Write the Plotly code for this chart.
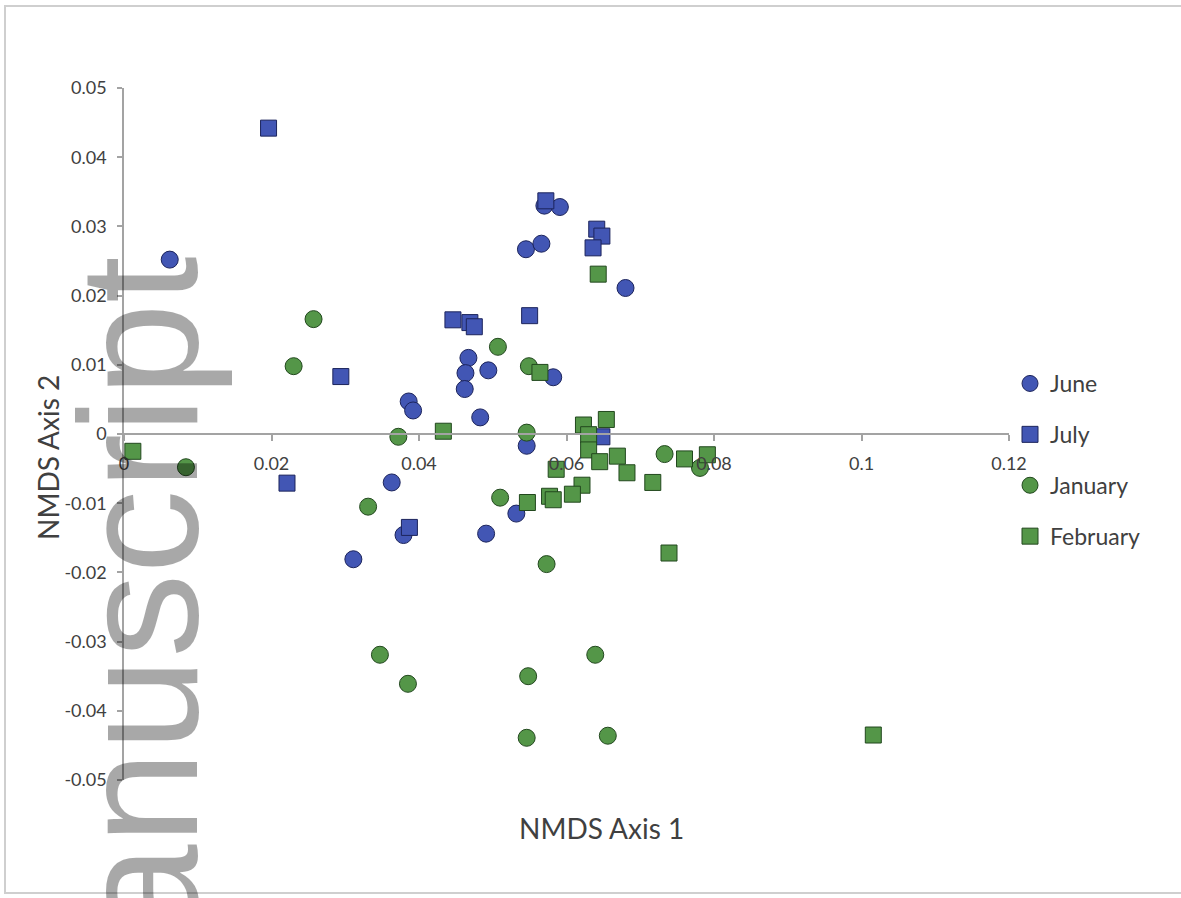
import plotly.graph_objects as go

# ---------------- data ----------------
june_x = [0.0062, 0.0570, 0.0591, 0.0545, 0.0566, 0.0680, 0.0467, 0.0463, 0.0462, 0.0494,
          0.0582, 0.0386, 0.0392, 0.0483, 0.0546, 0.0363, 0.0532, 0.0379, 0.0491, 0.0311]
june_y = [0.0252, 0.0330, 0.0328, 0.0267, 0.0275, 0.0211, 0.0110, 0.0088, 0.0065, 0.0092,
          0.0082, 0.0047, 0.0034, 0.0024, -0.0017, -0.0070, -0.0115, -0.0146, -0.0144, -0.0181]

july_x = [0.0196, 0.0572, 0.0641, 0.0648, 0.0636, 0.0550, 0.0446, 0.0469, 0.0475, 0.0294,
          0.0648, 0.0221, 0.0387]
july_y = [0.0442, 0.0337, 0.0296, 0.0286, 0.0269, 0.0171, 0.0165, 0.0161, 0.0155, 0.0083,
          -0.0004, -0.0071, -0.0135]

jan_x = [0.0257, 0.0230, 0.0507, 0.0549, 0.0372, 0.0546, 0.0084, 0.0733, 0.0781, 0.0510,
         0.0331, 0.0573, 0.0347, 0.0385, 0.0548, 0.0639, 0.0546, 0.0656]
jan_y = [0.0166, 0.0098, 0.0126, 0.0098, -0.0004, 0.0002, -0.0048, -0.0029, -0.0049, -0.0092,
         -0.0105, -0.0188, -0.0319, -0.0361, -0.0350, -0.0319, -0.0439, -0.0436]

feb_x = [0.0643, 0.0564, 0.0433, 0.0623, 0.0654, 0.0630, 0.0630, 0.0645, 0.0669, 0.0682,
         0.0586, 0.0717, 0.0760, 0.0791, 0.0621, 0.0608, 0.0577, 0.0582, 0.0547, 0.0739,
         0.0012, 0.1016]
feb_y = [0.0231, 0.0089, 0.0004, 0.0013, 0.0021, -0.0001, -0.0023, -0.0040, -0.0032, -0.0056,
         -0.0051, -0.0070, -0.0036, -0.0030, -0.0074, -0.0087, -0.0090, -0.0095, -0.0099, -0.0172,
         -0.0025, -0.0435]

x_tick_vals = [0, 0.02, 0.04, 0.06, 0.08, 0.1, 0.12]
x_tick_text = ["0", "0.02", "0.04", "0.06", "0.08", "0.1", "0.12"]
y_tick_vals = [0.05, 0.04, 0.03, 0.02, 0.01, 0, -0.01, -0.02, -0.03, -0.04, -0.05]
y_tick_text = ["0.05", "0.04", "0.03", "0.02", "0.01", "0", "-0.01", "-0.02", "-0.03", "-0.04", "-0.05"]

series_names = ["June", "July", "January", "February"]

# ---------------- style ----------------
BLUE = "rgb(66,86,180)"
BLUE_LINE = "rgb(28,36,92)"
GREEN = "rgb(84,150,72)"
GREEN_LINE = "rgb(34,72,30)"
AXIS = "#a3a3a3"
TXT = "#404040"
FONT = "Lato"

W, H = 1181, 898
L, R, T, B = 124, 1009, 88, 780   # plot area in pixels


def px_x(p):
    return (p - L) / (R - L)


def px_y(p):
    return (B - p) / (B - T)


fig = go.Figure()
specs = [
    (june_x, june_y, "circle", BLUE, BLUE_LINE, 17),
    (july_x, july_y, "square", BLUE, BLUE_LINE, 16),
    (jan_x, jan_y, "circle", GREEN, GREEN_LINE, 17),
    (feb_x, feb_y, "square", GREEN, GREEN_LINE, 16),
]
for name, (xs, ys, sym, fc, lc, sz) in zip(series_names, specs):
    fig.add_trace(go.Scatter(
        x=xs, y=ys, mode="markers", name=name, legendgroup=name,
        cliponaxis=False,
        marker=dict(symbol=sym, size=sz, color=fc, line=dict(color=lc, width=1)),
    ))

fig.update_layout(
    width=W, height=H,
    margin=dict(l=L, r=W - R, t=T, b=H - B),
    paper_bgcolor="white", plot_bgcolor="white",
    font=dict(family=FONT, color=TXT),
    showlegend=True,
    legend=dict(
        x=px_x(1010), y=px_y(460), xanchor="left", yanchor="middle",
        font=dict(family=FONT, size=23, color=TXT),
        tracegroupgap=18, itemwidth=30, bgcolor="rgba(0,0,0,0)",
    ),
    xaxis=dict(
        range=[0, 0.12], anchor="free", position=0.5,
        showline=True, linecolor=AXIS, linewidth=1.5,
        ticks="outside", ticklen=6, tickcolor=AXIS, tickwidth=1.5,
        tickvals=x_tick_vals, ticktext=x_tick_text,
        tickfont=dict(family=FONT, size=18, color=TXT),
        ticklabelstandoff=8,
        showgrid=False, zeroline=False,
    ),
    yaxis=dict(
        range=[-0.05, 0.05],
        showline=True, linecolor=AXIS, linewidth=1.5,
        ticks="outside", ticklen=5, tickcolor=AXIS, tickwidth=1.5,
        tickvals=y_tick_vals, ticktext=y_tick_text,
        tickfont=dict(family=FONT, size=18, color=TXT),
        ticklabelstandoff=7,
        showgrid=False, zeroline=False,
    ),
    shapes=[dict(
        type="rect", xref="paper", yref="paper", layer="below",
        x0=px_x(5), x1=px_x(1190), y0=px_y(893), y1=px_y(6),
        line=dict(color="#cfcfcf", width=2), fillcolor="rgba(0,0,0,0)",
    )],
    annotations=[
        dict(text="NMDS Axis 1", xref="paper", yref="paper", x=px_x(601), y=px_y(828),
             xanchor="center", yanchor="middle",
             showarrow=False, font=dict(family=FONT, size=28, color=TXT)),
        dict(text="NMDS Axis 2", xref="paper", yref="paper", x=px_x(48), y=px_y(458),
             xanchor="center", yanchor="middle",
             textangle=-90, showarrow=False, font=dict(family=FONT, size=28, color=TXT)),
        dict(text="anuscript", xref="paper", yref="paper", x=px_x(43), y=px_y(940),
             xanchor="left", yanchor="bottom",
             textangle=-90, showarrow=False,
             font=dict(family="Liberation Sans", size=168, color="rgba(0,0,0,0.34)")),
    ],
)

fig.write_html("out.html", config={"displayModeBar": False},
               post_script="document.body.style.margin='0';")
